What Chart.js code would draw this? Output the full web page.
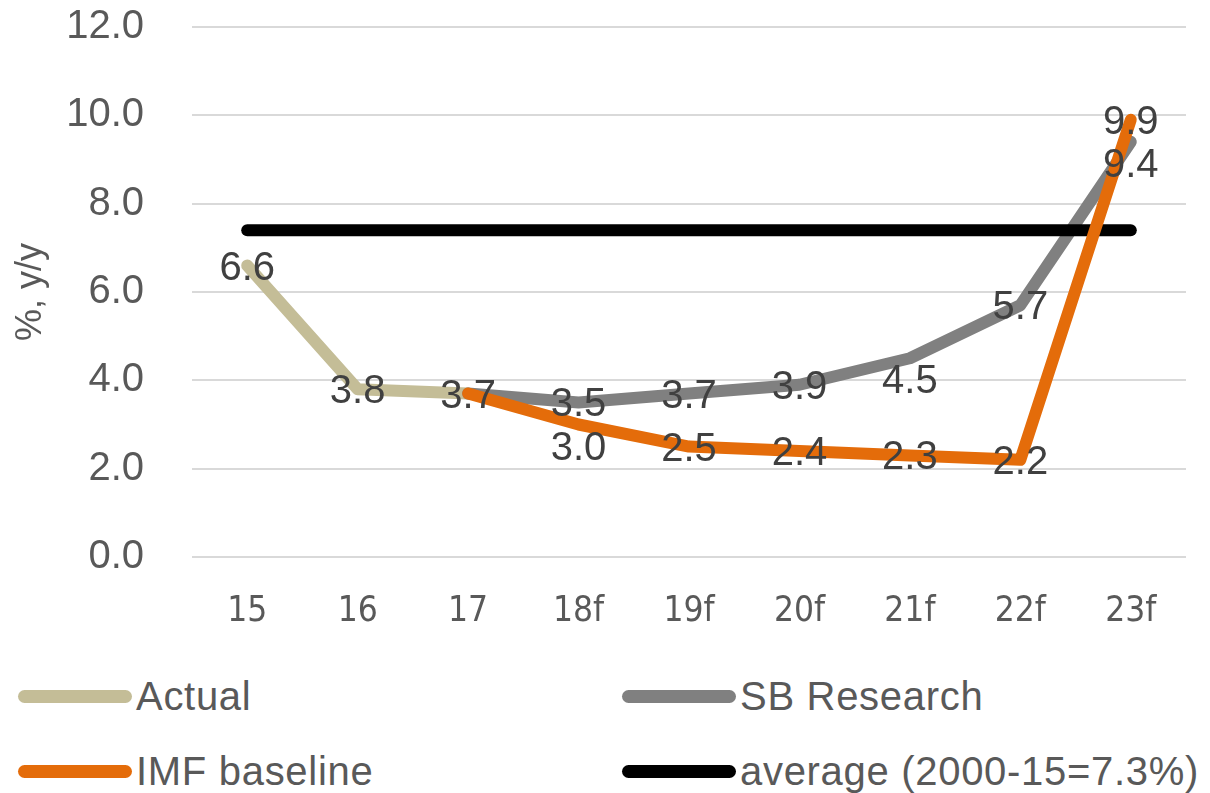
<!DOCTYPE html>
<html>
<head>
<meta charset="utf-8">
<script src="https://cdn.jsdelivr.net/npm/chart.js@4/dist/chart.umd.min.js"></script>
<style>
    body { margin: 0; background: #fff; overflow: hidden; }
    #wrap { position: relative; width: 1210px; height: 685px; margin-top: -45px; }
    #legend { position: relative; width: 1210px; height: 153px; font-family: "Liberation Sans", Arial, sans-serif; font-size: 40px; letter-spacing: 0.7px; color: #595959; }
    .item { position: absolute; display: flex; align-items: center; height: 44px; }
    .swatch { width: 114px; height: 13px; border-radius: 7px; margin-right: 4px; }
</style>
</head>
<body>
<div id="wrap"><canvas id="chart"></canvas></div>
<div id="legend"></div>
<script>
// chart values
const years = ["15", "16", "17", "18f", "19f", "20f", "21f", "22f", "23f"]
const actual = [6.6, 3.8, 3.7, null, null, null, null, null, null]
const sb_research = [null, null, 3.7, 3.5, 3.7, 3.9, 4.5, 5.7, 9.4]
const imf_baseline = [null, null, 3.7, 3.0, 2.5, 2.4, 2.3, 2.2, 9.9]
const average = [7.4, 7.4, 7.4, 7.4, 7.4, 7.4, 7.4, 7.4, 7.4]

const y_ticks = [0, 2, 4, 6, 8, 10, 12]

function makeDataset(label, data, color, order, labelPos) {
    return {
        "label": label,
        "data": data,
        "borderColor": color,
        "backgroundColor": color,
        "borderWidth": 12,
        "borderCapStyle": "round",
        "borderJoinStyle": "round",
        "pointRadius": 0,
        "tension": 0,
        "order": order,
        "labelPos": labelPos
    }
}

// draws the value labels on the points
const valueLabels = {
    id: "valueLabels",
    afterDatasetsDraw(chart) {
        const ctx = chart.ctx
        ctx.save()
        ctx.font = "40px 'Liberation Sans', Arial, sans-serif"
        ctx.fillStyle = "#404040"
        ctx.textAlign = "center"
        ctx.textBaseline = "middle"
        chart.data.datasets.forEach((ds, i) => {
            if (!ds.labelPos) return
            const meta = chart.getDatasetMeta(i)
            meta.data.forEach((pt, j) => {
                const pos = ds.labelPos[j]
                if (!pos || ds.data[j] === null) return
                let dy = 3
                if (pos === "below") dy = 24
                ctx.fillText(ds.data[j].toFixed(1), pt.x, pt.y + dy)
            })
        })
        ctx.restore()
    }
}

const datasets = [
    makeDataset("Actual", actual, "#C4BD97", 4, ["c", "c", "c"]),
    makeDataset("SB Research", sb_research, "#808080", 3, [null, null, null, "c", "c", "c", "below", "c", "below"]),
    makeDataset("IMF baseline", imf_baseline, "#E46C0A", 1, [null, null, null, "below", "c", "c", "c", "c", "c"]),
    makeDataset("average (2000-15=7.3%)", average, "#000000", 2, null)
]

new Chart(document.getElementById("chart").getContext("2d"), {
    "type": "line",
    "data": {
        "labels": years,
        "datasets": datasets
    },
    "options": {
        "responsive": true,
        "maintainAspectRatio": false,
        "animation": false,
        "layout": { "padding": { "top": 0, "right": 24, "left": 9, "bottom": 0 } },
        "plugins": {
            "legend": { "display": false },
            "tooltip": { "enabled": false }
        },
        "scales": {
            "x": {
                "offset": true,
                "grid": { "display": false },
                "border": { "display": false },
                "ticks": {
                    "color": "#595959",
                    "font": { "family": "'Liberation Sans Narrow', 'DejaVu Sans Condensed', sans-serif", "size": 35 },
                    "padding": 26
                },
                "afterFit": (scale) => { scale.height = 83 }
            },
            "y": {
                "min": 0,
                "max": 12,
                "afterBuildTicks": (scale) => { scale.ticks = y_ticks.map(v => ({ "value": v })) },
                "grid": { "color": "#D9D9D9", "lineWidth": 2, "drawTicks": false },
                "border": { "display": false },
                "ticks": {
                    "color": "#595959",
                    "font": { "family": "'Liberation Sans', Arial, sans-serif", "size": 40 },
                    "padding": 48,
                    "callback": (v) => Number(v).toFixed(1)
                },
                "title": {
                    "display": true,
                    "text": "%, y/y",
                    "color": "#595959",
                    "font": { "family": "'Liberation Sans', Arial, sans-serif", "size": 36 },
                    "padding": 0
                },
                "afterFit": (scale) => { scale.width = 183 }
            }
        }
    },
    "plugins": [valueLabels]
})

// legend in two columns under the chart
const legend_items = [
    ["Actual", "#C4BD97", 18, 34],
    ["SB Research", "#808080", 622, 34],
    ["IMF baseline", "#E46C0A", 18, 109],
    ["average (2000-15=7.3%)", "#000000", 622, 109]
]
const legend = document.getElementById("legend")
legend_items.forEach(([text, color, x, y]) => {
    const el = document.createElement("div")
    el.className = "item"
    el.style.left = x + "px"
    el.style.top = y + "px"
    el.innerHTML = '<span class="swatch" style="background:' + color + '"></span><span>' + text + '</span>'
    legend.appendChild(el)
})
</script>
</body>
</html>
